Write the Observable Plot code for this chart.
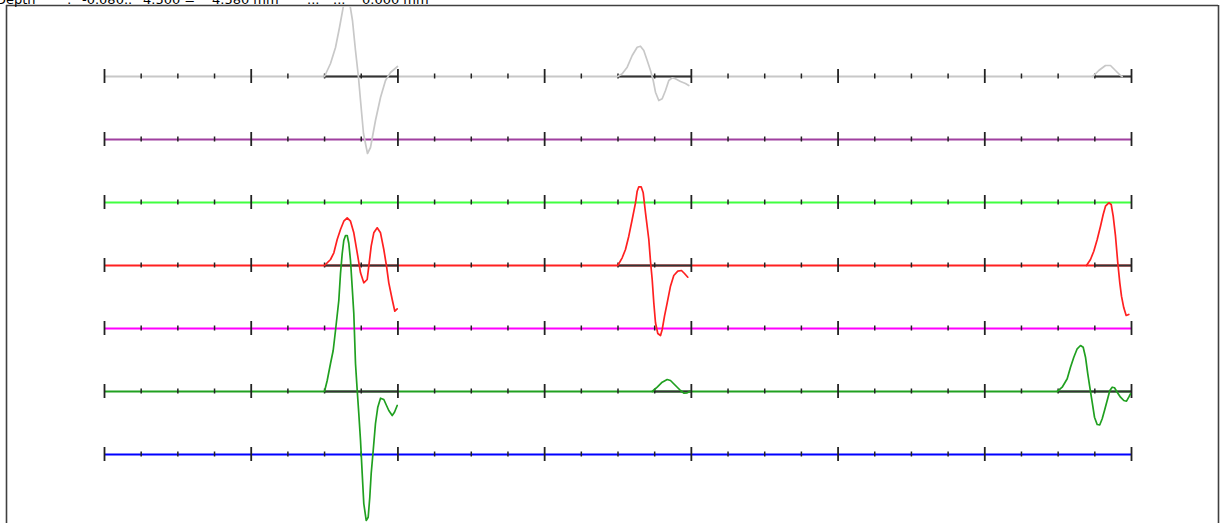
<!DOCTYPE html>
<html><head><meta charset="utf-8">
<script src="https://cdn.jsdelivr.net/npm/d3@7"></script>
<script src="https://cdn.jsdelivr.net/npm/@observablehq/plot@0.6"></script>
<style>
body{margin:0;background:#fff;overflow:hidden}
#wrap{position:relative;width:1227px;height:523px;overflow:hidden}
#hdr{position:absolute;left:0;top:-8px;width:1227px;height:20px;font:13px "DejaVu Sans",sans-serif;color:#000;white-space:pre;z-index:2}
#hdr span{position:absolute;top:0}
#chart{position:absolute;left:0;top:0}
</style></head>
<body><div id="wrap"><div id="hdr"></div><div id="chart"></div></div>
<script>
// ---- data ----
const headerLabels = ["Depth", ":", "-0.080..", "4.500 =", "4.580 mm", "...", "...", "0.000 mm"];
const channelIds = [0, 1, 2, 3, 4, 5, 6];
const majorTicks = [0, 4, 8, 12, 16, 20, 24, 28];
const minorTicks = d3.range(0, 29).filter(t => t % 4 !== 0);

// analysis windows (black baseline segments)
const windowChannel = [0, 0, 0, 3, 3, 3, 5, 5, 5];
const windowStart   = [6, 14, 27, 6, 14, 27, 6, 15, 26];
const windowEnd     = [8, 16, 28, 8, 16, 28, 8, 16, 28];

// waveforms: [x position, amplitude]
const gray1 = [[5.998,0],[6.162,13],[6.298,29],[6.407,49],[6.611,90],[6.761,56],[6.843,26],[6.925,-1],[6.980,-24],[7.061,-57],[7.170,-77],[7.252,-71],[7.388,-44],[7.525,-21],[7.661,-4],[7.797,4],[7.988,10]];
const gray2 = [[13.994,0],[14.114,2.7],[14.251,9.3],[14.387,21],[14.523,29.3],[14.613,30.3],[14.703,26],[14.796,16],[14.886,6],[14.960,-4],[15.022,-15.7],[15.112,-24],[15.205,-22.3],[15.295,-14],[15.385,-4],[15.477,-1.3],[15.567,-2.3],[15.704,-5],[15.840,-7],[15.930,-9]];
const gray3 = [[26.936,0],[26.972,1],[27.108,6],[27.291,11],[27.427,11],[27.563,6],[27.700,1],[27.746,0]];
const red1 = [[5.998,0],[6.162,6],[6.253,12.7],[6.344,26],[6.434,36],[6.524,44.3],[6.617,47.7],[6.707,44.3],[6.797,32.7],[6.890,12.7],[6.980,-7.3],[7.069,-17.3],[7.162,-14],[7.206,-0.7],[7.271,19.3],[7.342,32.7],[7.435,37.7],[7.525,32.7],[7.615,16],[7.689,-0.7],[7.751,-17.3],[7.844,-34],[7.915,-45.7],[7.980,-43.3]];
const red2 = [[13.994,0],[14.114,7.7],[14.204,16],[14.294,29.3],[14.387,46],[14.477,62.7],[14.523,74.3],[14.567,78.7],[14.632,78.7],[14.687,72.7],[14.750,52.7],[14.840,26],[14.886,4.3],[14.932,-14],[14.976,-37.3],[15.022,-57.3],[15.085,-68],[15.159,-70],[15.205,-64],[15.268,-50.7],[15.341,-37.3],[15.431,-20.7],[15.521,-10],[15.630,-5.7],[15.731,-5],[15.813,-8],[15.903,-11.7]];
const red3 = [[26.773,0],[26.882,6],[26.972,14.3],[27.065,26],[27.155,39.3],[27.228,51],[27.291,59.3],[27.381,62.7],[27.447,61],[27.501,49.3],[27.564,29.3],[27.626,2.7],[27.681,-17.3],[27.727,-30.7],[27.790,-42.3],[27.855,-50],[27.926,-49]];
const green1 = [[5.998,0],[6.072,11],[6.162,28],[6.235,41],[6.298,61],[6.388,91],[6.434,118],[6.481,138],[6.524,151],[6.571,156],[6.617,156],[6.661,148],[6.707,131],[6.753,104.3],[6.797,78],[6.843,28],[6.890,1],[6.933,-22],[6.980,-49],[7.026,-82],[7.069,-112],[7.135,-129],[7.189,-125.7],[7.233,-105.7],[7.271,-82],[7.326,-59],[7.388,-32],[7.451,-15.7],[7.525,-6.7],[7.615,-8],[7.689,-14],[7.751,-19],[7.844,-24],[7.906,-20.7],[7.980,-14]];
const green2 = [[14.932,0],[15.069,4.3],[15.205,9.3],[15.341,12],[15.431,11],[15.567,6],[15.704,1],[15.794,-1.7],[15.887,-1.3],[15.958,0]];
const green3 = [[25.974,0],[26.110,4.3],[26.247,12.7],[26.337,24.3],[26.427,34.3],[26.519,42.7],[26.610,46],[26.683,44.3],[26.746,34.3],[26.808,17.7],[26.863,4.3],[26.928,-10.7],[26.991,-25.7],[27.064,-33],[27.136,-33.3],[27.201,-27.3],[27.264,-19],[27.337,-9],[27.409,1],[27.474,4.3],[27.537,3.7],[27.610,-0.7],[27.700,-5.7],[27.790,-9],[27.864,-9.7],[27.926,-5.7],[27.972,-2.3]];
const waveChannel = [0, 0, 0, 3, 3, 3, 5, 5, 5];
const waveSeries = [gray1, gray2, gray3, red1, red2, red3, green1, green2, green3];

// ---- styles / layout ----
const channelColors = ["#c8c8c8", "#a040a0", "#40ff40", "#ff2020", "#ff00ff", "#20a020", "#0000ff"];
const SP = 63;            // channel spacing in amplitude units
const majorH = 7, minorH = 2.5;
const unitPx = 36.6786;
const W = 1227, H = 523, mL = 6, mR = 9, mT = 6;
const xLo = -(104 - mL) / unitPx;
const xHi = (W - mR - 104) / unitPx;
const yTop = 76 - mT, yBot = 76 - H;

// ---- header ----
const headerLeft = [-4, 67, 82, 143, 212, 307, 333, 362];
const hdr = document.getElementById("hdr");
headerLabels.forEach((t, i) => {
  const s = document.createElement("span");
  s.textContent = t; s.style.left = headerLeft[i] + "px";
  hdr.appendChild(s);
});

// ---- derived tables ----
const base = ch => -ch * SP;
const baselines = channelIds.map(ch => ({ch, x1: 0, x2: 28, y: base(ch)}));
const windows = windowChannel.map((ch, i) => ({ch, x1: windowStart[i], x2: windowEnd[i], y: base(ch)}));
const ticks = [];
for (const ch of channelIds) {
  for (const t of majorTicks) ticks.push({x: t, y1: base(ch) - majorH, y2: base(ch) + majorH, major: true});
  for (const t of minorTicks) ticks.push({x: t, y1: base(ch) - minorH, y2: base(ch) + minorH, major: false});
}
const wavePts = waveSeries.flatMap((s, i) => s.map(([x, a]) => ({key: i, ch: waveChannel[i], x, y: base(waveChannel[i]) + a})));

const chart = Plot.plot({
  width: W, height: H,
  marginLeft: mL, marginRight: mR, marginTop: mT, marginBottom: 0,
  x: {domain: [xLo, xHi], axis: null},
  y: {domain: [yBot, yTop], axis: null},
  color: {type: "ordinal", domain: channelIds, range: channelColors},
  style: {background: "white"},
  marks: [
    Plot.ruleX([xLo], {y1: yBot, y2: yTop + 1, stroke: "#404040", strokeWidth: 1.6}),
    Plot.ruleX([xHi], {y1: yBot, y2: yTop + 1, stroke: "#404040", strokeWidth: 1.6}),
    Plot.ruleY([yTop + 1], {x1: xLo, x2: xHi, stroke: "#404040", strokeWidth: 1.6}),
    Plot.link(baselines, {x1: "x1", x2: "x2", y1: "y", y2: "y", stroke: "ch", strokeWidth: 1.8}),
    Plot.link(windows, {x1: "x1", x2: "x2", y1: "y", y2: "y", stroke: "#333", strokeWidth: 1.8}),
    Plot.ruleX(ticks.filter(d => d.major), {x: "x", y1: "y1", y2: "y2", stroke: "#222", strokeWidth: 1.8}),
    Plot.ruleX(ticks.filter(d => !d.major), {x: "x", y1: "y1", y2: "y2", stroke: "#222", strokeWidth: 1.5}),
    Plot.line(wavePts, {x: "x", y: "y", z: "key", stroke: "ch", strokeWidth: 1.7, curve: "linear", clip: "frame"})
  ]
});
document.getElementById("chart").appendChild(chart);
</script>
</body></html>
